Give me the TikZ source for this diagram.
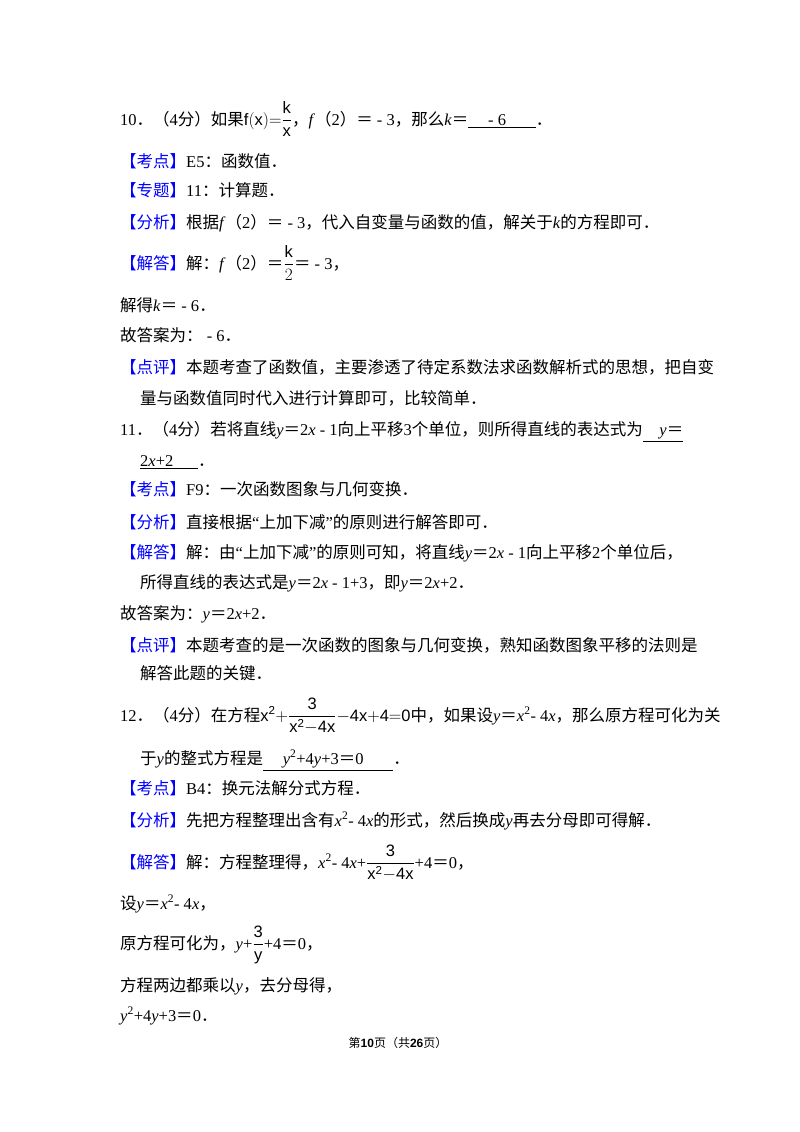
\documentclass[tikz,border=0pt]{standalone}
\usepackage{amsmath}
\usepackage{fontspec}
\setmainfont{Liberation Serif}
\setsansfont{Liberation Sans}
\newfontfamily\cjk{Noto Sans CJK SC}
\newfontfamily\latin{Liberation Serif}
\usetikzlibrary{calc}

% switch to the CJK font for Chinese characters
\XeTeXinterchartokenstate=1
\newXeTeXintercharclass\CJKcls
\newcount\cc
\cc="3000 \loop \XeTeXcharclass\cc=\CJKcls \advance\cc1 \ifnum\cc<"A000 \repeat
\cc="FE30 \loop \XeTeXcharclass\cc=\CJKcls \advance\cc1 \ifnum\cc<"FE70 \repeat
\cc="FF00 \loop \XeTeXcharclass\cc=\CJKcls \advance\cc1 \ifnum\cc<"FFF0 \repeat
\XeTeXinterchartoks 0 \CJKcls = {\cjk}
\XeTeXinterchartoks 4095 \CJKcls = {\cjk}
\XeTeXinterchartoks \CJKcls 0 = {\latin}
\XeTeXinterchartoks \CJKcls 4095 = {\latin}

\newcommand\kd[1]{\textcolor{blue}{【#1】}}
\newcommand\I[1]{\textit{#1}}
\newcommand\ans[1]{\underline{\hspace{1.2em}#1\hspace{1.8em}}}
\newcommand\sq{\textsuperscript{2}}

\begin{document}
\begin{tikzpicture}[x=1pt,y=-1pt,
	txt/.style={anchor=base west,inner sep=0pt,font=\fontsize{16.5}{18}\selectfont}]

\useasboundingbox[fill=white] (0,0) rectangle (800,1132);

\def\L{120}
\def\M{140}

%
% Aufgabe 10
%
\node[txt] (q10) at (\L,125) {10．（4分）如果$\mathsf{f(x)}{=}\dfrac{\mathsf k}{\mathsf x}$，\I{f}（2）＝ - 3，那么\I{k}＝\ans{- 6}．};
\node[txt] (kd10) at (\L,167) {\kd{考点}E5：函数值．};
\node[txt] (zt10) at (\L,196) {\kd{专题}11：计算题．};
\node[txt] (fx10) at (\L,228) {\kd{分析}根据\I{f}（2）＝ - 3，代入自变量与函数的值，解关于\I{k}的方程即可．};
\node[txt] (jd10) at (\L,269) {\kd{解答}解：\I{f}（2）＝$\dfrac{\mathsf k}{2}$＝ - 3，};
\node[txt] (a10) at (\L,311) {解得\I{k}＝ - 6．};
\node[txt] (b10) at (\L,341) {故答案为： - 6．};
\node[txt] (dp10) at (\L,373) {\kd{点评}本题考查了函数值，主要渗透了待定系数法求函数解析式的思想，把自变};
\node[txt] (dq10) at (\M,404) {量与函数值同时代入进行计算即可，比较简单．};

%
% Aufgabe 11
%
\node[txt] (q11) at (\L,435) {11．（4分）若将直线\I{y}＝2\I{x} - 1向上平移3个单位，则所得直线的表达式为\underline{\hspace{1em}\I{y}＝}};
\node[txt] (r11) at (\M,466) {\underline{2\I{x}+2\hspace{1.5em}}．};
\node[txt] (kd11) at (\L,495) {\kd{考点}F9：一次函数图象与几何变换．};
\node[txt] (fx11) at (\L,528) {\kd{分析}直接根据“上加下减”的原则进行解答即可．};
\node[txt] (jd11) at (\L,558) {\kd{解答}解：由“上加下减”的原则可知，将直线\I{y}＝2\I{x} - 1向上平移2个单位后，};
\node[txt] (jq11) at (\M,588) {所得直线的表达式是\I{y}＝2\I{x} - 1+3，即\I{y}＝2\I{x}+2．};
\node[txt] (b11) at (\L,619) {故答案为：\I{y}＝2\I{x}+2．};
\node[txt] (dp11) at (\L,651) {\kd{点评}本题考查的是一次函数的图象与几何变换，熟知函数图象平移的法则是};
\node[txt] (dq11) at (\M,679) {解答此题的关键．};

%
% Aufgabe 12
%
\node[txt] (q12) at (\L,721) {12．（4分）在方程$\mathsf{x^2}{+}\dfrac{\mathsf 3}{\mathsf{x^2{-}4x}}{-}\mathsf{4x{+}4{=}0}$中，如果设\I{y}＝\I{x}\sq - 4\I{x}，那么原方程可化为关};
\node[txt] (r12) at (\M,764) {于\I{y}的整式方程是\ans{\I{y}\sq+4\I{y}+3＝0}．};
\node[txt] (kd12) at (\L,794) {\kd{考点}B4：换元法解分式方程．};
\node[txt] (fx12) at (\L,826) {\kd{分析}先把方程整理出含有\I{x}\sq - 4\I{x}的形式，然后换成\I{y}再去分母即可得解．};
\node[txt] (jd12) at (\L,868) {\kd{解答}解：方程整理得，\I{x}\sq - 4\I{x}+$\dfrac{\mathsf 3}{\mathsf{x^2{-}4x}}$+4＝0，};
\node[txt] (s12) at (\L,909) {设\I{y}＝\I{x}\sq - 4\I{x}，};
\node[txt] (y12) at (\L,949) {原方程可化为，\I{y}+$\dfrac{\mathsf 3}{\mathsf y}$+4＝0，};
\node[txt] (m12) at (\L,991) {方程两边都乘以\I{y}，去分母得，};
\node[txt] (e12) at (\L,1021) {\I{y}\sq+4\I{y}+3＝0．};

% Seitenzahl
\node[inner sep=0pt,font=\fontsize{12}{14}\selectfont] (foot) at (398,1043)
	{第\textbf{\sffamily 10}页（共\textbf{\sffamily 26}页）};

\end{tikzpicture}
\end{document}
